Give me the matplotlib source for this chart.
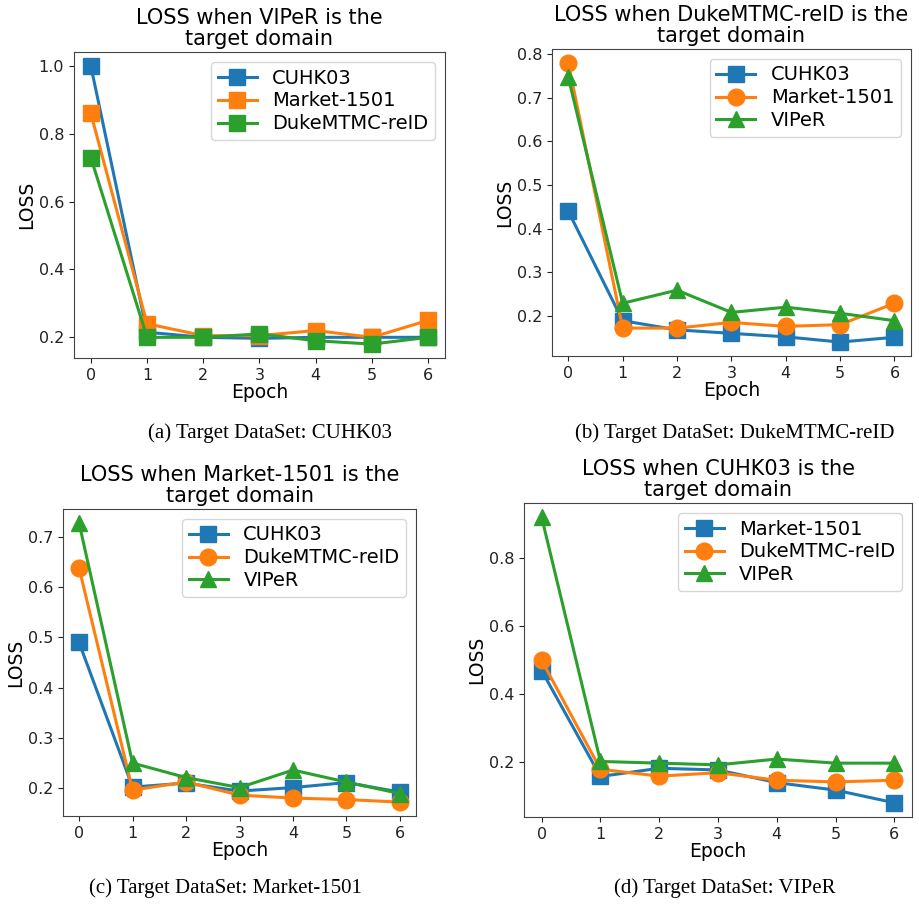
import matplotlib
matplotlib.use("Agg")
import matplotlib.pyplot as plt

epochs = [0, 1, 2, 3, 4, 5, 6]

# (a) VIPeR target
a_labels = ["CUHK03", "Market-1501", "DukeMTMC-reID"]
a_cuhk03 = [1.0, 0.215, 0.2, 0.197, 0.2, 0.2, 0.2]
a_market = [0.86, 0.24, 0.205, 0.205, 0.22, 0.2, 0.25]
a_duke = [0.73, 0.2, 0.2, 0.21, 0.19, 0.18, 0.2]

# (b) DukeMTMC-reID target
b_labels = ["CUHK03", "Market-1501", "VIPeR"]
b_cuhk03 = [0.44, 0.189, 0.168, 0.16, 0.152, 0.14, 0.151]
b_market = [0.78, 0.172, 0.172, 0.185, 0.176, 0.18, 0.229]
b_viper = [0.747, 0.229, 0.259, 0.208, 0.22, 0.206, 0.189]

# (c) Market-1501 target
c_labels = ["CUHK03", "DukeMTMC-reID", "VIPeR"]
c_cuhk03 = [0.49, 0.201, 0.209, 0.193, 0.2, 0.21, 0.191]
c_duke = [0.639, 0.195, 0.211, 0.185, 0.179, 0.176, 0.171]
c_viper = [0.729, 0.249, 0.22, 0.2, 0.235, 0.211, 0.188]

# (d) CUHK03 target
d_labels = ["Market-1501", "DukeMTMC-reID", "VIPeR"]
d_market = [0.469, 0.159, 0.183, 0.178, 0.141, 0.119, 0.082]
d_duke = [0.499, 0.18, 0.16, 0.17, 0.148, 0.143, 0.148]
d_viper = [0.918, 0.203, 0.198, 0.193, 0.21, 0.198, 0.198]

titles = ["LOSS when VIPeR is the\ntarget domain",
          "LOSS when DukeMTMC-reID is the\ntarget domain",
          "LOSS when Market-1501 is the\ntarget domain",
          "LOSS when CUHK03 is the\ntarget domain"]
captions = ["(a) Target DataSet: CUHK03",
            "(b) Target DataSet: DukeMTMC-reID",
            "(c) Target DataSet: Market-1501",
            "(d) Target DataSet: VIPeR"]

colors = ["#1f77b4", "#ff7f0e", "#2ca02c"]

panels = [
    dict(pos=[0.0804, 0.6044, 0.4033, 0.3381], series=[a_cuhk03, a_market, a_duke],
         labels=a_labels, markers=["s", "s", "s"], yticks=[0.2, 0.4, 0.6, 0.8, 1.0],
         cap=(0.293, 0.5215)),
    dict(pos=[0.600, 0.6066, 0.390, 0.3393], series=[b_cuhk03, b_market, b_viper],
         labels=b_labels, markers=["s", "o", "^"], yticks=[0.2, 0.3, 0.4, 0.5, 0.6, 0.7, 0.8],
         cap=(0.799, 0.5215)),
    dict(pos=[0.0685, 0.0983, 0.3837, 0.3393], series=[c_cuhk03, c_duke, c_viper],
         labels=c_labels, markers=["s", "o", "^"], yticks=[0.2, 0.3, 0.4, 0.5, 0.6, 0.7],
         cap=(0.245, 0.019)),
    dict(pos=[0.5696, 0.0972, 0.4217, 0.3470], series=[d_market, d_duke, d_viper],
         labels=d_labels, markers=["s", "o", "^"], yticks=[0.2, 0.4, 0.6, 0.8],
         cap=(0.788, 0.019)),
]

fig = plt.figure(figsize=(9.2, 9.05), dpi=100)

for i, p in enumerate(panels):
    ax = fig.add_axes(p["pos"])
    for vals, lab, mk, col in zip(p["series"], p["labels"], p["markers"], colors):
        ax.plot(epochs, vals, marker=mk, color=col, label=lab, linewidth=2.2,
                markersize=12)
    ax.set_yticks(p["yticks"])
    ax.set_xticks(epochs)
    ax.tick_params(labelsize=11.5, colors="#222222")
    for s in ax.spines.values():
        s.set_color("#444444")
    ax.set_title(titles[i], fontsize=15, linespacing=1.05, pad=5)
    ax.set_xlabel("Epoch", fontsize=13.5, labelpad=0)
    ax.set_ylabel("LOSS", fontsize=13.5, labelpad=2)
    ax.legend(loc="upper right", fontsize=14, handlelength=2.0, borderpad=0.35,
              labelspacing=0.2, handletextpad=0.8)
    fig.text(p["cap"][0], p["cap"][1], captions[i], ha="center", va="center",
             fontsize=15, family="Liberation Serif")

fig.savefig("out.png", dpi=100)
